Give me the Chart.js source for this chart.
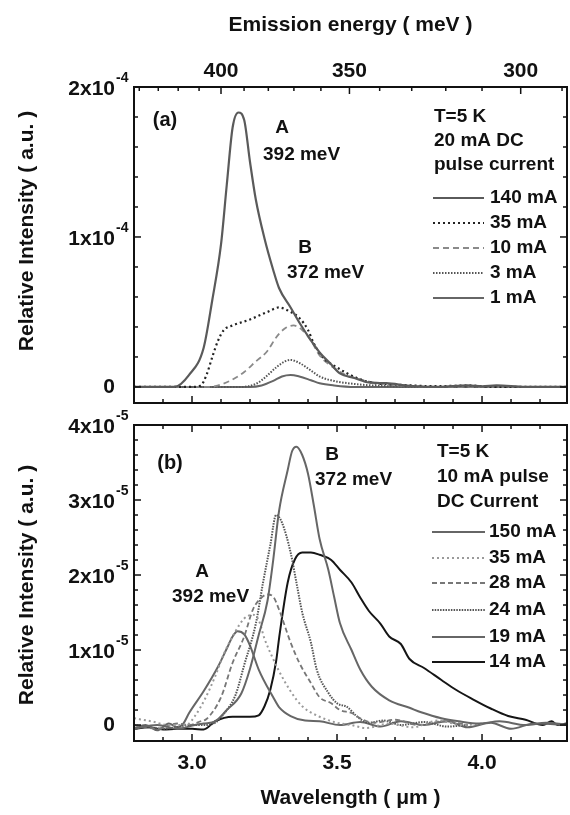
<!DOCTYPE html>
<html>
<head>
<meta charset="utf-8">
<script src="https://cdn.jsdelivr.net/npm/chart.js@4.4.1/dist/chart.umd.min.js"></script>
<style>
  html, body { margin: 0; padding: 0; background: #fff; }
  #wrapA { position: absolute; left: 0; top: 0; width: 570px; height: 410px; }
  #wrapB { position: absolute; left: 0; top: 410px; width: 570px; height: 405px; }
</style>
</head>
<body>
<div id="wrapA"><canvas id="chartA"></canvas></div>
<div id="wrapB"><canvas id="chartB"></canvas></div>
<script>
const FONT = "'Liberation Sans', Arial, Helvetica, sans-serif";
const HC = 1240; // meV * um

// panel (a), intensity in units of 1e-4
const wlA140 = [2.80, 2.90, 2.94, 2.99, 3.04, 3.07, 3.10, 3.12, 3.14, 3.16, 3.18, 3.20, 3.22, 3.25, 3.28, 3.30, 3.34, 3.37, 3.41, 3.44, 3.48, 3.51, 3.56, 3.61, 3.67, 3.75, 3.85, 3.95, 4.00, 4.05, 4.15, 4.30];
const intA140 = [0, 0, 0, 0.08, 0.26, 0.58, 0.95, 1.35, 1.73, 1.83, 1.78, 1.50, 1.25, 0.99, 0.78, 0.66, 0.53, 0.43, 0.31, 0.23, 0.15, 0.09, 0.06, 0.03, 0.025, 0.008, 0, 0.01, 0.004, 0.01, 0, 0];
const wlA35 = [2.80, 3.00, 3.03, 3.05, 3.07, 3.09, 3.11, 3.14, 3.20, 3.26, 3.30, 3.34, 3.37, 3.40, 3.42, 3.45, 3.50, 3.56, 3.61, 3.73, 3.85, 3.95, 4.05, 4.30];
const intA35 = [0, 0, 0.01, 0.08, 0.20, 0.31, 0.38, 0.41, 0.45, 0.50, 0.53, 0.50, 0.46, 0.38, 0.29, 0.20, 0.13, 0.067, 0.033, 0.013, 0.005, 0.01, 0, 0];
const wlA10 = [2.80, 3.05, 3.08, 3.13, 3.18, 3.22, 3.26, 3.29, 3.32, 3.35, 3.38, 3.41, 3.44, 3.48, 3.53, 3.58, 3.65, 3.75, 3.90, 4.30];
const intA10 = [0, 0, 0.005, 0.04, 0.10, 0.17, 0.24, 0.33, 0.39, 0.41, 0.38, 0.31, 0.21, 0.14, 0.08, 0.05, 0.02, 0.007, 0, 0];
const wlA3 = [2.80, 3.10, 3.17, 3.22, 3.25, 3.29, 3.32, 3.34, 3.37, 3.41, 3.44, 3.49, 3.56, 3.65, 3.80, 4.30];
const intA3 = [0, 0, 0, 0.02, 0.06, 0.13, 0.17, 0.18, 0.16, 0.11, 0.07, 0.04, 0.02, 0.007, 0, 0];
const wlA1 = [2.80, 3.15, 3.20, 3.24, 3.28, 3.31, 3.34, 3.37, 3.41, 3.44, 3.49, 3.56, 4.30];
const intA1 = [0, 0, 0, 0.01, 0.04, 0.07, 0.08, 0.07, 0.045, 0.025, 0.01, 0, 0];

// panel (b), intensity in units of 1e-5
const wlB150 = [2.80, 2.88, 2.95, 3.01, 3.04, 3.08, 3.12, 3.17, 3.20, 3.23, 3.26, 3.28, 3.30, 3.33, 3.345, 3.36, 3.38, 3.40, 3.42, 3.44, 3.47, 3.49, 3.51, 3.55, 3.58, 3.62, 3.68, 3.75, 3.79, 3.86, 3.92, 3.99, 4.06, 4.15, 4.22, 4.30];
const intB150 = [-0.05, 0.0, -0.05, 0.0, 0.02, 0.05, 0.20, 0.42, 0.75, 1.20, 1.65, 2.20, 2.85, 3.40, 3.65, 3.71, 3.60, 3.35, 2.93, 2.48, 2.07, 1.71, 1.36, 1.00, 0.74, 0.51, 0.33, 0.23, 0.17, 0.09, 0.05, 0.02, 0.05, 0.0, 0.03, 0.0];
const wlB35 = [2.80, 2.86, 2.92, 2.98, 3.01, 3.045, 3.08, 3.11, 3.15, 3.18, 3.21, 3.23, 3.25, 3.28, 3.30, 3.34, 3.38, 3.44, 3.50, 3.55, 3.60, 3.68, 3.76, 3.85, 3.93, 4.00];
const intB35 = [0.09, 0.05, 0.0, 0.0, 0.12, 0.35, 0.65, 0.95, 1.25, 1.42, 1.47, 1.40, 1.15, 0.88, 0.72, 0.45, 0.25, 0.11, 0.03, 0.0, -0.04, 0.02, -0.03, 0.06, 0.0, 0.02];
const wlB28 = [2.80, 2.88, 2.95, 2.99, 3.03, 3.05, 3.10, 3.14, 3.18, 3.21, 3.24, 3.26, 3.28, 3.30, 3.34, 3.37, 3.41, 3.44, 3.48, 3.51, 3.55, 3.59, 3.63, 3.70, 3.78, 3.87, 3.95];
const intB28 = [0.0, -0.05, 0.02, 0.0, 0.05, 0.08, 0.37, 0.83, 1.18, 1.54, 1.70, 1.74, 1.71, 1.54, 1.10, 0.83, 0.56, 0.37, 0.29, 0.20, 0.16, 0.07, 0.03, 0.07, 0.0, 0.05, 0.0];
const wlB24 = [2.80, 2.90, 3.00, 3.045, 3.08, 3.11, 3.15, 3.18, 3.22, 3.245, 3.27, 3.29, 3.31, 3.34, 3.36, 3.38, 3.41, 3.43, 3.47, 3.50, 3.535, 3.57, 3.61, 3.66, 3.72, 3.80, 3.88, 3.95];
const intB24 = [0.0, -0.05, 0.0, 0.0, 0.03, 0.15, 0.40, 0.80, 1.35, 1.90, 2.40, 2.80, 2.70, 2.30, 1.90, 1.50, 1.10, 0.74, 0.43, 0.29, 0.24, 0.11, 0.03, 0.06, 0.0, 0.04, -0.02, 0.0];
const wlB19 = [2.80, 2.84, 2.88, 2.92, 2.95, 2.97, 2.99, 3.04, 3.09, 3.12, 3.14, 3.157, 3.18, 3.20, 3.23, 3.28, 3.30, 3.34, 3.39, 3.44, 3.51, 3.58, 3.65, 3.72, 3.80, 3.88, 3.95, 4.03, 4.10, 4.18, 4.30];
const intB19 = [-0.05, 0.0, -0.07, 0.02, -0.03, 0.02, 0.16, 0.45, 0.78, 1.02, 1.18, 1.25, 1.21, 1.06, 0.74, 0.37, 0.24, 0.12, 0.06, 0.05, 0.0, 0.04, -0.02, 0.05, 0.0, 0.05, -0.03, 0.03, -0.05, 0.02, 0.0];
const wlB14 = [2.80, 2.85, 2.90, 2.95, 3.00, 3.04, 3.08, 3.14, 3.20, 3.23, 3.25, 3.27, 3.29, 3.30, 3.33, 3.355, 3.38, 3.41, 3.44, 3.48, 3.51, 3.55, 3.58, 3.61, 3.65, 3.68, 3.72, 3.75, 3.80, 3.86, 3.91, 3.97, 4.03, 4.09, 4.15, 4.21, 4.24, 4.26, 4.30];
const intB14 = [-0.05, -0.03, -0.06, -0.05, -0.05, -0.06, 0.05, 0.11, 0.11, 0.13, 0.25, 0.47, 0.85, 1.15, 1.90, 2.21, 2.30, 2.30, 2.27, 2.20, 2.07, 1.90, 1.70, 1.52, 1.35, 1.18, 1.08, 0.88, 0.76, 0.60, 0.47, 0.34, 0.22, 0.12, 0.07, 0.0, 0.05, 0.0, 0.03];

// axes
const wavelengthTicks = [3.0, 3.5, 4.0];
const energyTicks = [400, 350, 300];
const yTicksA = [0, 1, 2];
const yTicksB = [0, 1, 2, 3, 4];

const seriesA = [
  { label: '140 mA', wl: wlA140, val: intA140, color: '#5a5a5a', width: 2.2, dash: [] },
  { label: '35 mA',  wl: wlA35,  val: intA35,  color: '#222222', width: 2.2, dash: [2, 3] },
  { label: '10 mA',  wl: wlA10,  val: intA10,  color: '#8a8a8a', width: 1.8, dash: [6, 4] },
  { label: '3 mA',   wl: wlA3,   val: intA3,   color: '#555555', width: 2, dash: [1.5, 1.5] },
  { label: '1 mA',   wl: wlA1,   val: intA1,   color: '#666666', width: 2, dash: [] }
];
const seriesB = [
  { label: '150 mA', wl: wlB150, val: intB150, color: '#666666', width: 2, dash: [] },
  { label: '35 mA',  wl: wlB35,  val: intB35,  color: '#9a9a9a', width: 2, dash: [2, 3] },
  { label: '28 mA',  wl: wlB28,  val: intB28,  color: '#777777', width: 1.8, dash: [5, 3] },
  { label: '24 mA',  wl: wlB24,  val: intB24,  color: '#555555', width: 2, dash: [1.5, 1.2] },
  { label: '19 mA',  wl: wlB19,  val: intB19,  color: '#666666', width: 2, dash: [] },
  { label: '14 mA',  wl: wlB14,  val: intB14,  color: '#151515', width: 2, dash: [] }
];

Chart.defaults.font.family = FONT;
const boldFont = size => ({ family: FONT, size: size, weight: 'bold', lineHeight: 1.2 });

// frame, inward ticks, y labels, y title, notes and legend
function framePlugin(cfg) {
  return {
    id: 'frame' + cfg.name,
    afterDatasetsDraw(chart) {
      const { ctx, chartArea: a } = chart;
      const x = chart.scales.x, y = chart.scales.y;
      ctx.save();
      ctx.strokeStyle = '#111';
      ctx.lineWidth = 2;
      ctx.strokeRect(a.left, a.top, a.right - a.left, a.bottom - a.top);
      ctx.lineWidth = 1.5;
      const seg = (x1, y1, x2, y2) => { ctx.beginPath(); ctx.moveTo(x1, y1); ctx.lineTo(x2, y2); ctx.stroke(); };

      for (let k = 28; k <= 43; k++) {
        const v = k / 10;
        if (v <= x.min || v >= x.max) continue;
        const px = x.getPixelForValue(v);
        const len = k % 5 === 0 ? 7 : 4;
        seg(px, a.bottom, px, a.bottom - len);
        if (!cfg.energy) seg(px, a.top, px, a.top + len);
      }
      if (cfg.energy) {
        for (let e = 450; e >= 280; e -= 10) {
          const v = HC / e;
          if (v <= x.min || v >= x.max) continue;
          const px = x.getPixelForValue(v);
          const len = e % 50 === 0 ? 7 : 4;
          seg(px, a.top, px, a.top + len);
        }
      }
      const yTop = cfg.yTicks[cfg.yTicks.length - 1];
      for (let k = 0; k * 0.2 <= yTop + 1e-9; k++) {
        const py = y.getPixelForValue(k * 0.2);
        const len = k % 5 === 0 ? 7 : 4;
        seg(a.left, py, a.left + len, py);
        seg(a.right, py, a.right - len, py);
      }

      ctx.fillStyle = '#111';
      ctx.textBaseline = 'middle';
      cfg.yTicks.forEach(m => {
        const py = y.getPixelForValue(m);
        ctx.font = `bold 21px ${FONT}`;
        ctx.textAlign = 'right';
        if (m === 0) { ctx.fillText('0', a.left - 19, py); return; }
        ctx.fillText(m + 'x10', a.left - 19, py + 2);
        ctx.font = `bold 14px ${FONT}`;
        ctx.textAlign = 'left';
        ctx.fillText(cfg.yExp, a.left - 18, py - 9);
      });

      // y axis title
      ctx.save();
      ctx.translate(27, (a.top + a.bottom) / 2 + cfg.titleShift);
      ctx.rotate(-Math.PI / 2);
      ctx.font = `bold 21px ${FONT}`;
      ctx.textAlign = 'center';
      ctx.fillText('Relative Intensity ( a.u. )', 0, 0);
      ctx.restore();

      cfg.notes.forEach(n => {
        ctx.font = `bold ${n.size}px ${FONT}`;
        ctx.textAlign = n.align;
        ctx.fillText(n.text, a.left + n.dx, a.top + n.dy);
      });

      ctx.font = `bold 19px ${FONT}`;
      ctx.textAlign = 'left';
      cfg.head.forEach((t, i) => ctx.fillText(t, a.left + cfg.headX, a.top + cfg.headY[i]));
      chart.data.datasets.forEach((ds, i) => {
        const ly = a.top + cfg.rowY[i];
        ctx.strokeStyle = ds.borderColor;
        ctx.lineWidth = ds.borderWidth;
        ctx.setLineDash(ds.borderDash);
        seg(a.left + cfg.lineX0, ly, a.left + cfg.lineX1, ly);
        ctx.setLineDash([]);
        ctx.fillText(ds.label, a.left + cfg.textX, ly);
      });
      ctx.restore();
    }
  };
}

function buildChart(id, series, cfg) {
  const tickFont = boldFont(21);
  const scales = {
    x: {
      type: 'linear', position: 'bottom', min: 2.8, max: 4.293,
      afterBuildTicks: s => { s.ticks = wavelengthTicks.map(v => ({ value: v })); },
      afterFit: s => { s.height = cfg.xHeight; },
      grid: { display: false, drawTicks: false }, border: { display: false },
      ticks: { display: cfg.showX, autoSkip: false, maxRotation: 0, padding: 9.4, color: '#111', font: tickFont,
               callback: v => v.toFixed(1) },
      title: { display: cfg.showX, text: 'Wavelength ( μm )', color: '#111', font: tickFont, padding: { top: 0, bottom: 4.4 } }
    },
    y: {
      min: cfg.yMin, max: cfg.yMax,
      afterFit: s => { s.width = 134; },
      grid: { display: false, drawTicks: false }, border: { display: false },
      ticks: { display: false }
    }
  };
  if (cfg.energy) {
    scales.x2 = {
      type: 'linear', position: 'top', min: 2.8, max: 4.293,
      afterBuildTicks: s => { s.ticks = energyTicks.map(e => ({ value: HC / e })); },
      afterFit: s => { s.height = 87; },
      grid: { display: false, drawTicks: false }, border: { display: false },
      ticks: { autoSkip: false, maxRotation: 0, padding: 3.4, color: '#111', font: tickFont,
               callback: v => Math.round(HC / v) },
      title: { display: true, text: 'Emission energy ( meV )', color: '#111', font: tickFont, padding: { top: 12.4, bottom: 0 } }
    };
  }
  return new Chart(document.getElementById(id), {
    type: 'line',
    data: {
      datasets: series.map(s => ({
        label: s.label,
        data: s.wl.map((w, i) => ({ x: w, y: s.val[i] })),
        borderColor: s.color,
        borderWidth: s.width,
        borderDash: s.dash,
        pointRadius: 0,
        fill: false,
        cubicInterpolationMode: 'monotone'
      }))
    },
    options: {
      responsive: true,
      maintainAspectRatio: false,
      animation: false,
      devicePixelRatio: 1,
      layout: { padding: { left: 0, right: 3, top: cfg.padTop, bottom: 0 } },
      plugins: { legend: { display: false }, tooltip: { enabled: false } },
      scales: scales
    },
    plugins: [framePlugin(cfg)]
  });
}

buildChart('chartA', seriesA, {
  name: 'A', energy: true, showX: false, xHeight: 7, padTop: 0, titleShift: -14,
  yMin: -0.107, yMax: 2.0, yTicks: yTicksA, yExp: '-4',
  notes: [
    { text: '(a)', dx: 31, dy: 33, size: 20, align: 'center' },
    { text: 'A', dx: 148, dy: 41, size: 19, align: 'center' },
    { text: '392 meV', dx: 129, dy: 68, size: 19, align: 'left' },
    { text: 'B', dx: 171, dy: 161, size: 19, align: 'center' },
    { text: '372 meV', dx: 153, dy: 186, size: 19, align: 'left' }
  ],
  head: ['T=5 K', '20 mA DC', 'pulse current'], headX: 300, headY: [30, 54, 78],
  rowY: [111, 136, 161, 186, 211], lineX0: 299, lineX1: 350, textX: 356
});

buildChart('chartB', seriesB, {
  name: 'B', energy: false, showX: true, xHeight: 74, padTop: 15, titleShift: 2,
  yMin: -0.213, yMax: 4.0, yTicks: yTicksB, yExp: '-5',
  notes: [
    { text: '(b)', dx: 36, dy: 38, size: 20, align: 'center' },
    { text: 'A', dx: 68, dy: 147, size: 19, align: 'center' },
    { text: '392 meV', dx: 38, dy: 172, size: 19, align: 'left' },
    { text: 'B', dx: 198, dy: 30, size: 19, align: 'center' },
    { text: '372 meV', dx: 181, dy: 55, size: 19, align: 'left' }
  ],
  head: ['T=5 K', '10 mA pulse', 'DC Current'], headX: 303, headY: [27, 52, 77],
  rowY: [107, 133, 158, 185, 212, 237], lineX0: 298, lineX1: 351, textX: 355
});
</script>
</body>
</html>
